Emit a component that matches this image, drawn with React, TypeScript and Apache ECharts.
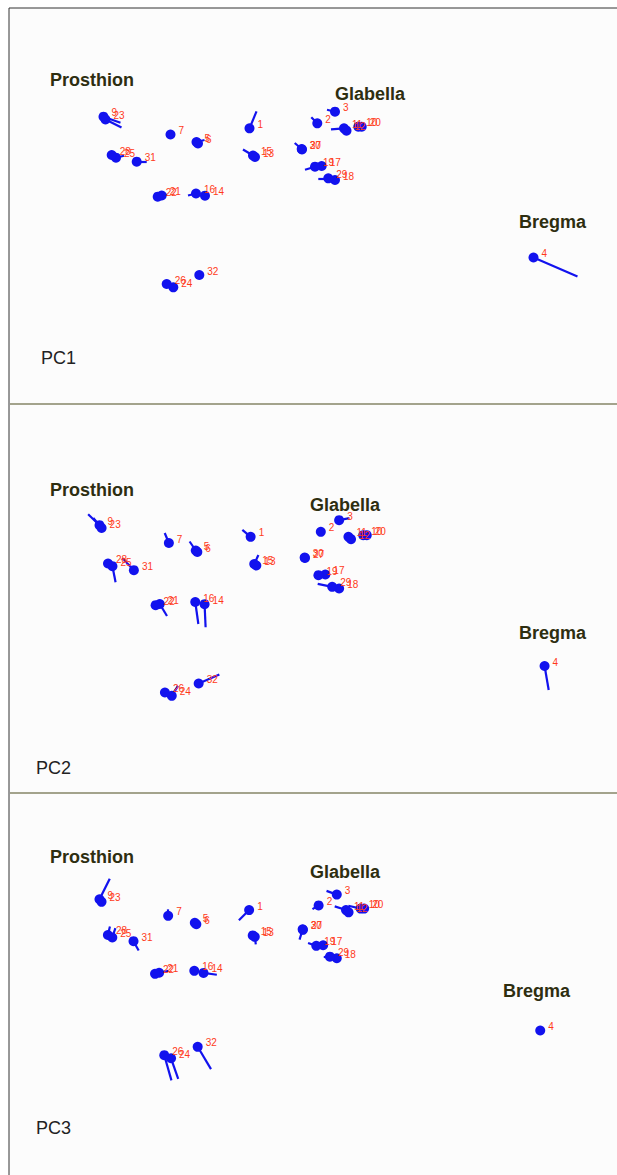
import React, { useEffect, useRef } from "react";
import * as echarts from "echarts";

// Landmark numbers and consensus coordinates (same frame for all panels)
const landmarkIds = [1, 2, 3, 4, 5, 6, 7, 9, 23, 10, 20, 11, 12, 13, 15, 14, 16, 17, 19, 18, 29, 21, 22, 24, 26, 25, 28, 27, 30, 31, 32];
const landmarkX = [249.5, 317.3, 335, 533.5, 196.5, 198, 170.5, 103.5, 105.5, 358.3, 361.7, 344, 346.5, 255, 253, 205, 196, 321.7, 315, 335, 328.3, 161.7, 157.7, 173.3, 166.7, 116, 111.7, 302, 301.7, 136.7, 199.3];
const landmarkY = [128.3, 123.3, 111.7, 257.5, 142, 143.5, 134.5, 116.7, 119.5, 126.7, 126.7, 128.3, 130.7, 157, 155.5, 195.7, 193.5, 166, 166.7, 180, 178.3, 195.5, 196.7, 287.3, 284, 157.7, 155, 149.5, 149, 161.7, 275];

// Shape-change vectors (dx, dy) for each principal component, in landmark order
const pc1DX = [7, -6, -8, 44, 8, 0, 0, 17, 16, 0, 0, -13, 0, 0, -10, 0, -8, 0, -10, 0, -10, 5, 0, 0, 0, 8, 0, 0, -7, 10, 0];
const pc1DY = [-17, -6, -2, 19, -2, 0, 0, 6, 8, 0, 0, 1, 0, 0, -6, 0, 2, 0, 3, 0, 0, -1, 0, 0, 0, -2, 0, 0, -6, 0, 0];
const pc2DX = [-8, 0, 10, 4, -6, 0, -4, -11, -8, 0, 0, 0, 0, 0, 4, 1, 3, 0, 0, 0, -14, 7, 0, 6, 0, 3, 0, 0, 0, -11, 20];
const pc2DY = [-7, 0, -2, 24, -9, 0, -10, -11, -10, 0, 0, 0, 0, 0, -9, 23, 22, 0, 0, 0, -3, 12, 0, -10, 0, 16, 0, 0, 0, -12, -9];
const pc3DX = [-10, -6, -10, 0, 0, 0, 0, 10, 0, -12, 0, -11, 0, 1, 0, 13, 0, 0, -8, 0, -6, 9, 0, 7, 7, 3, 2, 0, -3, 5, 13];
const pc3DY = [11, 4, -4, 0, 0, 0, -7, -22, 0, -3, 0, -4, 0, 8, 0, 2, 0, 0, -3, 0, 0, -2, 0, 22, 27, -10, -9, 0, 11, 10, 24];

const panelTitles = ["PC1", "PC2", "PC3"];
const anatomicalNames = ["Prosthion", "Glabella", "Bregma"];

const W = 617;
const H = 1175;

// Layout of each panel (pixel mapping)
const panels = [
  { dx: pc1DX, dy: pc1DY, sx: 1, ax: 0, sy: 1, ay: 0, top: 8, height: 396,
    names: [[50, 80], [335, 94], [519, 222]], title: [41, 358] },
  { dx: pc2DX, dy: pc2DY, sx: 1.035, ax: -7.6, sy: 1, ay: 408.5, top: 404, height: 389,
    names: [[50, 490], [310, 505], [519, 633]], title: [36, 768] },
  { dx: pc3DX, dy: pc3DY, sx: 1.025, ax: -6.6, sy: 0.932, ay: 790.5, top: 793, height: 382,
    names: [[50, 857], [310, 872], [503, 991]], title: [36, 1128] },
];

const BLUE = "#1212ee";
const RED = "#ff3a1a";

export default function App() {
  const ref = useRef<HTMLDivElement>(null);
  useEffect(() => {
    if (!ref.current) return;
    const chart = echarts.init(ref.current, null, { renderer: "svg" });
    const grids: any[] = [];
    const xAxes: any[] = [];
    const yAxes: any[] = [];
    const series: any[] = [];
    const graphics: any[] = [
      { type: "rect", shape: { x: 9, y: 8, width: W, height: H }, style: { fill: "#fcfcfc", stroke: "#333", lineWidth: 1 }, z: -10 },
      { type: "line", shape: { x1: 10, y1: 404, x2: W, y2: 404 }, style: { stroke: "#a3a38c", lineWidth: 2 } },
      { type: "line", shape: { x1: 10, y1: 793, x2: W, y2: 793 }, style: { stroke: "#a3a38c", lineWidth: 2 } },
    ];
    panels.forEach((p, i) => {
      const xmin = -p.ax / p.sx;
      const xmax = xmin + W / p.sx;
      const ymin = (p.top - p.ay) / p.sy;
      const ymax = ymin + p.height / p.sy;
      grids.push({ left: 0, top: p.top, width: W, height: p.height, show: false });
      xAxes.push({ type: "value", gridIndex: i, min: xmin, max: xmax, show: false });
      yAxes.push({ type: "value", gridIndex: i, min: ymin, max: ymax, inverse: true, show: false });
      const lineData: any[] = [];
      landmarkIds.forEach((id, k) => {
        if (p.dx[k] !== 0 || p.dy[k] !== 0) {
          lineData.push({
            coords: [
              [landmarkX[k], landmarkY[k]],
              [landmarkX[k] + p.dx[k], landmarkY[k] + p.dy[k]],
            ],
          });
        }
      });
      series.push({
        type: "lines",
        coordinateSystem: "cartesian2d",
        xAxisIndex: i,
        yAxisIndex: i,
        data: lineData,
        lineStyle: { color: BLUE, width: 2.2, opacity: 1 },
        silent: true,
        z: 2,
      });
      series.push({
        type: "scatter",
        xAxisIndex: i,
        yAxisIndex: i,
        symbolSize: 10,
        itemStyle: { color: BLUE, opacity: 1 },
        data: landmarkIds.map((id, k) => ({ name: String(id), value: [landmarkX[k], landmarkY[k]] })),
        label: {
          show: true,
          formatter: "{b}",
          position: "right",
          distance: 3,
          offset: [0, -4],
          color: RED,
          fontSize: 10,
          fontFamily: "Liberation Sans, Arial, sans-serif",
        },
        z: 3,
      });
      p.names.forEach((pos, j) => {
        graphics.push({
          type: "text",
          x: pos[0],
          y: pos[1],
          style: {
            text: anatomicalNames[j],
            fill: "#2e2e10",
            fontSize: 18,
            fontWeight: "bold",
            fontFamily: "Liberation Sans, Arial, sans-serif",
            verticalAlign: "middle",
          },
          z: 10,
        });
      });
      graphics.push({
        type: "text",
        x: p.title[0],
        y: p.title[1],
        style: {
          text: panelTitles[i],
          fill: "#222",
          fontSize: 18,
          fontFamily: "Liberation Sans, Arial, sans-serif",
          verticalAlign: "middle",
        },
        z: 10,
      });
    });
    chart.setOption({
      animation: false,
      backgroundColor: "#ffffff",
      grid: grids,
      xAxis: xAxes,
      yAxis: yAxes,
      series,
      graphic: graphics,
    });
    return () => chart.dispose();
  }, []);
  return <div ref={ref} style={{ position: "absolute", left: 0, top: 0, width: W, height: H }} />;
}
